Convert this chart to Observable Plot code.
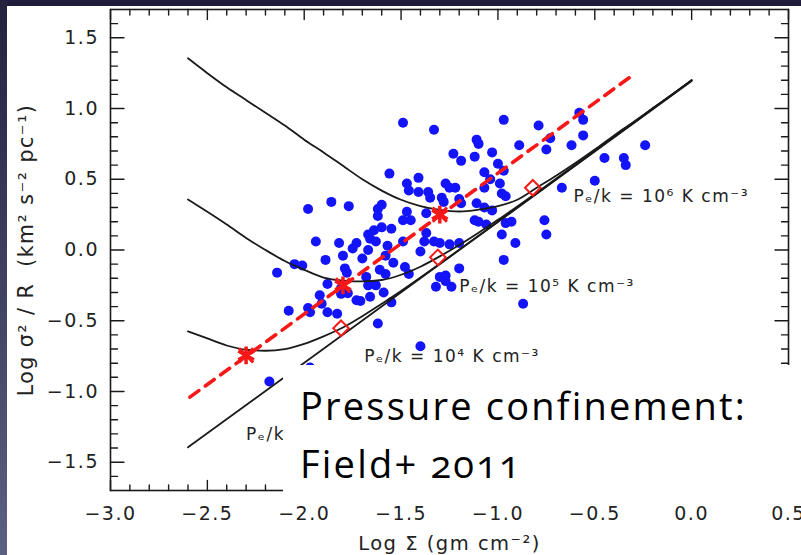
<!DOCTYPE html>
<html><head><meta charset="utf-8">
<script src="https://cdn.jsdelivr.net/npm/d3@7"></script>
<script src="https://cdn.jsdelivr.net/npm/@observablehq/plot@0.6"></script>
<style>
html,body{margin:0;padding:0;background:#fff;}
#wrap{position:relative;width:801px;height:555px;overflow:hidden;background:#fff;}
#wrap svg{position:absolute;left:0;top:0;}
#topbar{position:absolute;left:0;top:0;width:801px;height:6px;background:#1f1d3b;}
#leftbar{position:absolute;left:0;top:0;width:7px;height:555px;background:linear-gradient(#23213e,#5c6082);}
#box{position:absolute;left:283px;top:365px;width:518px;height:134px;background:#fff;}
#box div{position:absolute;left:17px;font-family:"Open Sans";font-size:38px;letter-spacing:2.2px;color:#000;white-space:nowrap;line-height:1;font-variant-numeric:oldstyle-nums;}
</style></head>
<body>
<div id="wrap"></div>
<script>
// ---- data ----
const curveX = [-2.6,-2.5,-2.4,-2.3,-2.2,-2.1,-2.0,-1.9,-1.8,-1.7,-1.6,-1.5,-1.4,-1.3,-1.2,-1.1,-1.0,-0.9,-0.8,-0.7,-0.6,-0.5,-0.4,-0.3,-0.2,-0.1,0.0];
const p6Y = [1.355,1.25,1.15,1.06,0.97,0.88,0.78,0.69,0.595,0.50,0.42,0.355,0.31,0.283,0.272,0.285,0.31,0.355,0.44,0.525,0.615,0.71,0.81,0.905,1.003,1.10,1.20];
const p5Y = [0.357,0.27,0.18,0.085,0.0,-0.078,-0.14,-0.195,-0.216,-0.222,-0.212,-0.175,-0.118,-0.045,0.035,0.122,0.213,0.308,0.405,0.504,0.603,0.702,0.802,0.901,1.001,1.10,1.20];
const p4Y = [-0.575,-0.625,-0.675,-0.705,-0.712,-0.70,-0.663,-0.61,-0.548,-0.468,-0.38,-0.29,-0.195,-0.097,0.002,0.101,0.20,0.30,0.40,0.50,0.60,0.70,0.80,0.90,1.00,1.10,1.20];
const p0X = [-2.6, 0.0];
const p0Y = [-1.395, 1.195];
const redX = [-2.59, -0.32];
const redY = [-1.04, 1.22];
const starX = [-2.30, -1.80, -1.30];
const starY = [-0.745, -0.25, 0.25];
const diaX = [-1.81, -1.31, -0.82];
const diaY = [-0.553, -0.052, 0.44];
const dotX = [
 -1.98,-1.86,-1.77,-1.94,-1.82,-1.73,-1.75,-1.67,-1.66,-1.64,-1.63,-1.67,-1.70,-1.80,-1.89,-2.05,-2.01,-2.14,-1.79,-1.78,
 -1.88,-1.81,-1.775,-1.81,-1.68,-1.67,-1.63,-1.61,-1.58,-1.92,-1.91,-1.98,-1.97,-2.08,-1.88,-1.83,-1.73,-1.71,-1.66,-1.62,
 -1.62,-1.60,-1.62,-1.97,-2.18,
 -1.49,-1.33,-0.97,-0.79,-0.73,-0.75,-0.89,-1.11,-1.10,-1.03,-1.23,-1.19,-1.12,-1.00,-0.97,-1.07,-1.04,-0.99,-1.07,-0.98,
 -0.96,-0.67,-0.62,-1.56,-1.47,-1.46,-1.41,-1.41,-1.36,-1.35,-1.27,-1.25,-1.22,-1.29,-1.28,-1.20,-1.19,-1.11,-1.07,-1.03,
 -1.12,-1.10,-1.06,-0.96,-0.93,-0.98,-0.91,-0.76,-0.75,-0.97,-1.47,-1.49,-1.45,-1.37,-1.60,-1.55,-1.57,-1.49,-1.38,-1.37,
 -1.33,-1.30,-1.25,-1.20,-1.40,-1.58,-1.54,-1.48,-1.46,-1.20,-1.30,-1.27,-1.32,-1.27,-1.24,-0.87,-1.40,-1.59,-1.55,
 -0.58,-0.56,-0.56,-0.45,-0.35,-0.34,-0.24,-0.50
];
const dotY = [
 0.29,0.34,0.31,0.06,0.05,0.05,0.01,0.11,0.08,0.14,0.06,0.00,-0.06,-0.04,-0.07,-0.10,-0.11,-0.16,-0.13,-0.16,
 -0.24,-0.27,-0.305,-0.31,-0.19,-0.25,-0.25,-0.14,-0.17,-0.32,-0.38,-0.41,-0.44,-0.43,-0.44,-0.45,-0.355,-0.36,-0.33,-0.52,
 0.29,0.32,0.24,-0.83,-0.93,
 0.90,0.85,0.92,0.88,0.79,0.71,0.74,0.78,0.75,0.69,0.68,0.63,0.66,0.61,0.56,0.55,0.50,0.47,0.44,0.40,
 0.38,0.44,0.74,0.54,0.47,0.42,0.51,0.41,0.41,0.37,0.47,0.44,0.44,0.37,0.34,0.36,0.33,0.33,0.30,0.28,
 0.21,0.20,0.18,0.19,0.20,0.11,0.05,0.21,0.11,-0.07,0.27,0.21,0.21,0.26,0.16,0.15,0.03,0.06,0.06,0.12,
 0.06,0.05,0.04,0.05,-0.01,-0.04,-0.09,-0.12,-0.17,-0.13,-0.19,-0.18,-0.26,-0.22,-0.26,-0.38,-0.68,-0.30,-0.37,
 0.97,0.92,0.81,0.65,0.65,0.60,0.74,0.49
];
const labelText = ["P\u2091/k = 10\u2076 K cm\u207B\u00B3", "P\u2091/k = 10\u2075 K cm\u207B\u00B3", "P\u2091/k = 10\u2074 K cm\u207B\u00B3", "P\u2091/k"];
const labelX = [-0.61, -1.20, -1.69, -2.30];
const labelY = [0.336, -0.297, -0.794, -1.344];
const xTicksMajor = [-3.0,-2.5,-2.0,-1.5,-1.0,-0.5,0.0,0.5];
const xTicksMinor = [-2.9,-2.8,-2.7,-2.6,-2.4,-2.3,-2.2,-2.1,-1.9,-1.8,-1.7,-1.6,-1.4,-1.3,-1.2,-1.1,-0.9,-0.8,-0.7,-0.6,-0.4,-0.3,-0.2,-0.1,0.1,0.2,0.3,0.4];
const yTicksMajor = [-1.5,-1.0,-0.5,0.0,0.5,1.0,1.5];
const yTicksMinor = [-1.6,-1.4,-1.3,-1.2,-1.1,-0.9,-0.8,-0.7,-0.6,-0.4,-0.3,-0.2,-0.1,0.1,0.2,0.3,0.4,0.6,0.7,0.8,0.9,1.1,1.2,1.3,1.4,1.6];
const xTitle = "Log \u03A3 (gm cm\u207B\u00B2)";
const yTitle = "Log \u03C3\u00B2 / R\u00A0\u00A0(km\u00B2 s\u207B\u00B2 pc\u207B\u00B9)";
const boxLines = ["Pressure confinement:", "Field+ 2011"];

// ---- tables built from the arrays ----
const dots = dotX.map((x, i) => ({x, y: dotY[i]}));
const c6 = curveX.map((x, i) => ({x, y: p6Y[i]}));
const c5 = curveX.map((x, i) => ({x, y: p5Y[i]}));
const c4 = curveX.map((x, i) => ({x, y: p4Y[i]}));
const c0 = p0X.map((x, i) => ({x, y: p0Y[i]}));
const red = redX.map((x, i) => ({x, y: redY[i]}));
const stars = starX.map((x, i) => ({x, y: starY[i]}));
const dias = diaX.map((x, i) => ({x, y: diaY[i]}));
const labels = labelText.map((t, i) => ({t, x: labelX[i], y: labelY[i]}));

const RED = "#f81818";
const INK = "#1a1a1a";
const tickOpts = {r: 0, anchor: "start", stroke: INK, strokeWidth: 1.4};
const curveOpts = {x: "x", y: "y", stroke: INK, strokeWidth: 1.8, curve: "monotone-x"};
const fmt = d3.format(".1f");

const chart = Plot.plot({
  width: 801, height: 555,
  marginLeft: 110, marginRight: 13, marginTop: 9, marginBottom: 65,
  x: {domain: [-3, 0.5], axis: null},
  y: {domain: [-1.7, 1.7], axis: null},
  style: {fontFamily: "DejaVu Sans", background: "transparent", color: INK},
  marks: [
    Plot.dot(dots, {x: "x", y: "y", r: 5, fill: "#1414fa", stroke: "none"}),
    Plot.line(c0, {x: "x", y: "y", stroke: INK, strokeWidth: 1.8}),
    Plot.line(c4, curveOpts),
    Plot.line(c5, curveOpts),
    Plot.line(c6, curveOpts),
    Plot.line(red, {x: "x", y: "y", stroke: RED, strokeWidth: 3.6, strokeDasharray: "11,8"}),
    Plot.dot(dias, {x: "x", y: "y", symbol: "diamond2", r: 7, stroke: RED, strokeWidth: 2, fill: "none"}),
    Plot.dot(stars, {x: "x", y: "y", symbol: "asterisk", r: 8.5, stroke: RED, strokeWidth: 3.5}),
    Plot.dot(stars, {x: "x", y: "y", symbol: "times", r: 6.5, stroke: RED, strokeWidth: 3}),
    Plot.text(labels, {x: "x", y: "y", text: "t", textAnchor: "start", lineAnchor: "bottom", fontSize: 17, fill: "#222", ariaLabel: "curve-label"}),
    Plot.frame({stroke: INK, strokeWidth: 1.6}),
    Plot.vector(yTicksMajor, {...tickOpts, x: -3, y: d => d, length: 13.5, rotate: 90}),
    Plot.vector(yTicksMinor, {...tickOpts, x: -3, y: d => d, length: 7, rotate: 90}),
    Plot.vector(yTicksMajor, {...tickOpts, x: 0.5, y: d => d, length: 13.5, rotate: -90}),
    Plot.vector(yTicksMinor, {...tickOpts, x: 0.5, y: d => d, length: 7, rotate: -90}),
    Plot.vector(xTicksMajor, {...tickOpts, x: d => d, y: -1.7, length: 10, rotate: 0}),
    Plot.vector(xTicksMinor, {...tickOpts, x: d => d, y: -1.7, length: 5.5, rotate: 0}),
    Plot.vector(xTicksMajor, {...tickOpts, x: d => d, y: 1.7, length: 10, rotate: 180}),
    Plot.vector(xTicksMinor, {...tickOpts, x: d => d, y: 1.7, length: 5.5, rotate: 180}),
    Plot.axisX({ticks: xTicksMajor, tickSize: 0, tickPadding: 16, tickFormat: fmt, label: null, fontSize: 19, color: "#222"}),
    Plot.axisY({ticks: yTicksMajor, tickSize: 0, tickPadding: 11.5, tickFormat: fmt, label: null, fontSize: 19, color: "#222"}),
    Plot.text([xTitle], {frameAnchor: "bottom", text: d => d, textAnchor: "middle", lineAnchor: "middle", dy: 53, fontSize: 19.5, fill: "#222", ariaLabel: "x-title"}),
    Plot.text([yTitle], {frameAnchor: "left", text: d => d, textAnchor: "middle", lineAnchor: "middle", dx: -84, rotate: -90, fontSize: 20.5, fill: "#222", ariaLabel: "y-title"})
  ]
});

const wrap = document.getElementById("wrap");
wrap.appendChild(chart);
const s = d3.select(chart);
s.selectAll("text").style("letter-spacing", "1.5px");
const spacing = (name, v) => s.selectAll(`[aria-label="${name}"], [aria-label="${name}"] text`).style("letter-spacing", v);
spacing("curve-label", "1.4px");
spacing("x-title", "2.8px");
spacing("y-title", "2.4px");

const box = document.createElement("div");
box.id = "box";
[21, 79].forEach((top, i) => {
  const d = document.createElement("div");
  d.style.top = top + "px";
  d.textContent = boxLines[i];
  box.appendChild(d);
});
wrap.appendChild(box);
const tb = document.createElement("div"); tb.id = "topbar"; wrap.appendChild(tb);
const lb = document.createElement("div"); lb.id = "leftbar"; wrap.appendChild(lb);
</script>
</body></html>
